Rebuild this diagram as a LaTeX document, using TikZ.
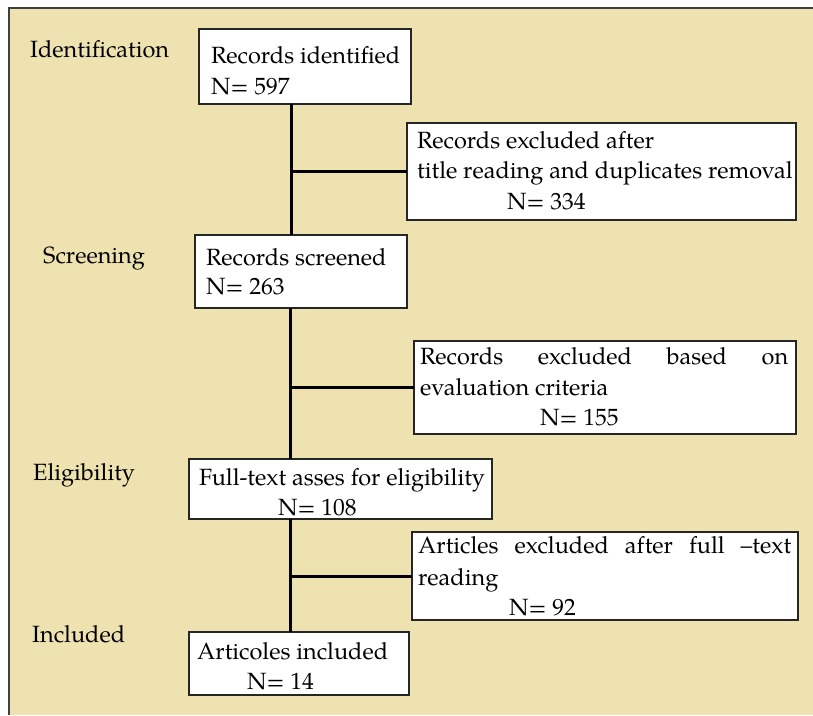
\documentclass[tikz,border=0pt]{standalone}
\usepackage{fontspec}
\setmainfont{TeX Gyre Pagella}
\definecolor{beige}{RGB}{238,226,176}
\begin{document}
\begin{tikzpicture}[x=1pt,y=-1pt,
  box/.style={draw=black!85, line width=1.5pt, fill=white, inner sep=0pt, outer sep=0pt, anchor=north west},
  txt/.style={anchor=base west, inner sep=0pt, font=\fontsize{23.5}{31}\selectfont},
  link/.style={line width=3pt, black}]
\useasboundingbox (0,0) rectangle (813,715);
\fill[beige] (9,8) rectangle (813,715);
\draw[line width=1.5pt, black!75] (9,715) -- (9,8) -- (813,8);

% stage labels
\node[txt] (lid) at (30,57) {Identification};
\node[txt] (lsc) at (43,263) {Screening};
\node[txt] (lel) at (33,480) {Eligibility};
\node[txt] (lin) at (32,642) {Included};

% boxes
\node[box, minimum width=212pt, minimum height=75pt] (b1) at (199,29) {};
\node[box, minimum width=389pt, minimum height=97pt] (e1) at (407,123) {};
\node[box, minimum width=212pt, minimum height=73pt] (b2) at (195,235) {};
\node[box, minimum width=382pt, minimum height=93pt] (e2) at (414,341) {};
\node[box, minimum width=303pt, minimum height=60pt] (b3) at (189,459) {};
\node[box, minimum width=386pt, minimum height=88pt] (e3) at (412,532) {};
\node[box, minimum width=220pt, minimum height=63pt] (b4) at (189,632) {};

% connectors
\coordinate (v1) at (291,0);
\coordinate (v2) at (290,0);
\coordinate (v3) at (290,0);
\draw[link] (b1.south -| v1) -- (b2.north -| v1);
\draw[link] (v1 |- e1.west) -- (e1.west);
\draw[link] (b2.south -| v2) -- (b3.north -| v2);
\draw[link] (v2 |- e2.west) -- (e2.west);
\draw[link] (b3.south -| v3) -- (b4.north -| v3);
\draw[link] (v3 |- e3.west) -- (e3.west);

% texts
\node[txt] (t1a) at (211,63) {Records identified};
\node[txt] (t1b) at (211,94) {N= 597};
\node[txt] (t2a) at (417,148) {Records excluded after};
\node[txt] (t2b) at (417,178) {title reading and duplicates removal};
\node[txt] (t2c) at (507,209) {N= 334};
\node[txt] (t3a) at (206,265) {Records screened};
\node[txt] (t3b) at (206,294) {N= 263};
\node[txt] (t4a) at (420,364) {\makebox[368pt][s]{Records excluded based on}};
\node[txt] (t4b) at (420,395) {evaluation criteria};
\node[txt] (t4c) at (540,425) {N= 155};
\node[txt] (t5a) at (199,485) {Full-text asses for eligibility};
\node[txt] (t5b) at (278,515) {N= 108};
\node[txt] (t6a) at (418,553) {\makebox[373pt][s]{Articles excluded after full –text}};
\node[txt] (t6b) at (418,585) {reading};
\node[txt] (t6c) at (509,615) {N= 92};
\node[txt] (t7a) at (197,659) {Articoles included};
\node[txt] (t7b) at (247,689) {N= 14};
\end{tikzpicture}
\end{document}
